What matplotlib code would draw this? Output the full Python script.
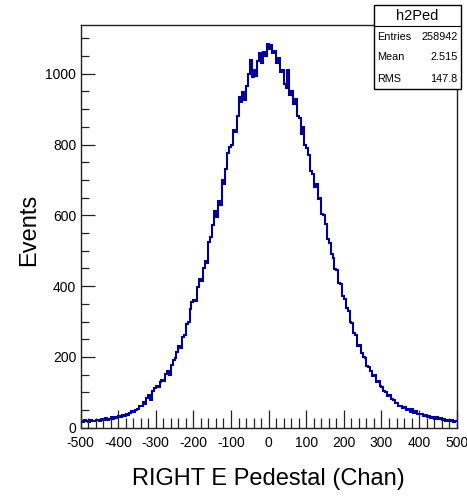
import numpy as np
import matplotlib
matplotlib.use("Agg")
import matplotlib.pyplot as plt
from matplotlib.ticker import MultipleLocator
from matplotlib.patches import Rectangle

plt.rcParams['font.family'] = ['Liberation Sans', 'DejaVu Sans']
plt.rcParams['axes.unicode_minus'] = False

# Histogram: 200 bins of width 5 from -500 to 500
bin_lo = -500
bin_hi = 500
counts = [
    18, 15, 21, 19, 17, 22, 20, 18, 23, 21,
    20, 24, 22, 27, 23, 25, 29, 26, 31, 28,
    33, 30, 36, 34, 39, 37, 42, 46, 44, 50,
    54, 60, 62, 74, 66, 84, 92, 78, 104, 112,
    118, 114, 128, 136, 132, 152, 160, 150, 178, 192,
    198, 214, 232, 226, 256, 262, 292, 300, 336, 356,
    362, 358, 398, 420, 414, 452, 470, 466, 525, 540,
    572, 612, 596, 640, 628, 700, 690, 730, 775, 792,
    800, 842, 835, 880, 935, 920, 948, 926, 965, 1000,
    1040, 990, 1012, 995, 1035, 1058, 1030, 1062, 1050, 1085,
    1070, 1082, 1058, 1064, 1030, 1045, 1005, 1012, 970, 960,
    1010, 940, 952, 915, 930, 880, 875, 830, 850, 800,
    790, 770, 725, 718, 680, 690, 645, 650, 605, 600,
    575, 532, 522, 490, 480, 448, 445, 410, 405, 372,
    365, 338, 330, 300, 296, 268, 262, 232, 235, 212,
    200, 198, 175, 172, 160, 146, 148, 130, 132, 118,
    115, 104, 102, 90, 92, 80, 79, 70, 69, 61,
    62, 55, 58, 50, 54, 45, 52, 42, 46, 40,
    38, 40, 33, 36, 30, 33, 28, 31, 26, 29,
    24, 27, 22, 25, 20, 23, 18, 21, 16, 19,
]
x_ticks = [-500, -400, -300, -200, -100, 0, 100, 200, 300, 400, 500]
y_ticks = [0, 200, 400, 600, 800, 1000]
stat_names = ["Entries", "Mean", "RMS"]
stat_values = ["258942", "2.515", "147.8"]
hist_name = "h2Ped"

edges = np.linspace(bin_lo, bin_hi, len(counts) + 1)

fig = plt.figure(figsize=(4.67, 4.97), dpi=100)
ax = fig.add_axes([0.1724, 0.1394, 0.978 - 0.1724, 0.9507 - 0.1394])

ax.stairs(counts, edges, color='#000099', linewidth=1.5, baseline=None)

ax.set_xlim(bin_lo, bin_hi)
ax.set_ylim(0, max(counts) * 1.05)

ax.set_xticks(x_ticks)
ax.set_yticks(y_ticks)
ax.xaxis.set_minor_locator(MultipleLocator(20))
ax.yaxis.set_minor_locator(MultipleLocator(50))
ax.tick_params(axis='both', which='both', direction='in', top=False, right=False,
               color='#222222', width=0.9)
ax.tick_params(axis='x', which='major', length=13, pad=6, labelsize=10)
ax.tick_params(axis='x', which='minor', length=7)
ax.tick_params(axis='y', which='major', length=10, pad=3, labelsize=10)
ax.tick_params(axis='y', which='minor', length=6)
for s in ax.spines.values():
    s.set_linewidth(1.0)
    s.set_color('#222222')

fig.text(268 / 467, 1 - 479 / 497, "RIGHT E Pedestal (Chan)", fontsize=17,
         ha='center', va='center')
fig.text(29 / 467, 1 - 230 / 497, "Events", fontsize=17, rotation=90,
         ha='center', va='center')

# Stats box
bx0, by0, bx1, by1 = 373.5, 5.0, 460.5, 89.0
W, H = 467.0, 497.0
box = Rectangle((bx0 / W, 1 - by1 / H), (bx1 - bx0) / W, (by1 - by0) / H,
                transform=fig.transFigure, facecolor='white', edgecolor='black',
                linewidth=1.0, zorder=5)
fig.add_artist(box)
fig.add_artist(plt.Line2D([bx0 / W, bx1 / W], [1 - 25.5 / H, 1 - 25.5 / H],
                          transform=fig.transFigure, color='black', linewidth=0.8,
                          zorder=6))
fig.text((bx0 + bx1) / 2 / W, 1 - 15.5 / H, hist_name, fontsize=10.5,
         ha='center', va='center', zorder=7)
row_y = [36.5, 57.5, 79.0]
for name, val, yy in zip(stat_names, stat_values, row_y):
    fig.text((bx0 + 4) / W, 1 - yy / H, name, fontsize=7.8, ha='left',
             va='center', zorder=7)
    fig.text((bx1 - 3) / W, 1 - yy / H, val, fontsize=7.8, ha='right',
             va='center', zorder=7)

fig.savefig("out.png", dpi=100)
